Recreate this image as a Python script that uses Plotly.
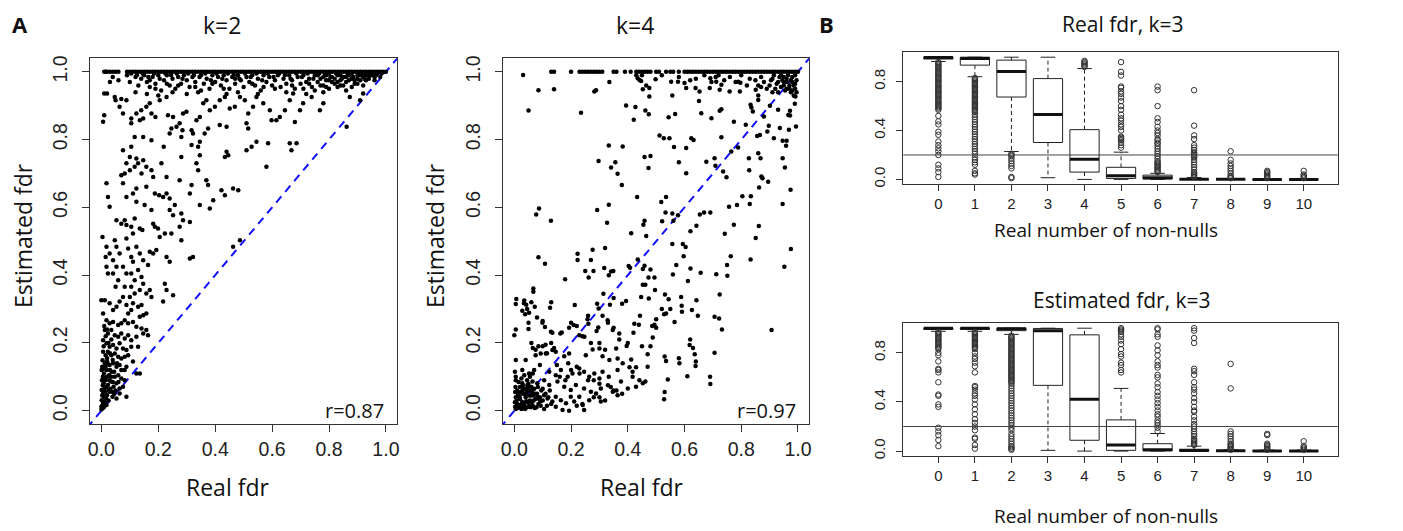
import plotly.graph_objects as go

# ---------------- Panel A data: (real fdr, estimated fdr) ----------------
k2_band_x = [0.01, 0.015, 0.02, 0.03, 0.04, 0.05, 0.06,
             0.09, 0.10, 0.11, 0.12, 0.13, 0.14, 0.15, 0.16, 0.17, 0.18, 0.19, 0.20,
             0.21, 0.22, 0.23, 0.24, 0.25, 0.26, 0.27, 0.28, 0.29, 0.30, 0.31, 0.32,
             0.33, 0.34, 0.35, 0.36, 0.37, 0.38, 0.39, 0.40, 0.41, 0.42, 0.43, 0.44,
             0.45, 0.46, 0.47, 0.48, 0.49, 0.50, 0.51, 0.52, 0.53, 0.54, 0.55, 0.56,
             0.57, 0.58, 0.59, 0.60, 0.61, 0.62, 0.63, 0.64, 0.65, 0.66, 0.67, 0.68,
             0.69, 0.70, 0.71, 0.72, 0.73, 0.74, 0.75, 0.76, 0.77, 0.78, 0.79, 0.80,
             0.81, 0.82, 0.83, 0.84, 0.85, 0.86, 0.87, 0.88, 0.89, 0.90, 0.91, 0.92,
             0.93, 0.94, 0.95, 0.96, 0.97, 0.98, 0.99, 1.00]
k2_band_y = 1.0

k2_points = [
    (0.03, 0.97), (0.04, 0.985), (0.06, 0.975), (0.09, 0.99), (0.10, 0.97), (0.12, 0.985), (0.13, 0.96),
    (0.14, 0.98), (0.15, 0.99), (0.16, 0.97), (0.17, 0.955), (0.18, 0.985), (0.19, 0.965), (0.20, 0.99),
    (0.21, 0.945), (0.22, 0.975), (0.23, 0.99), (0.24, 0.96), (0.25, 0.98), (0.26, 0.95), (0.27, 0.985),
    (0.28, 0.965), (0.29, 0.99), (0.30, 0.975), (0.31, 0.955), (0.32, 0.985), (0.33, 0.97), (0.34, 0.94),
    (0.35, 0.99), (0.36, 0.965), (0.37, 0.98), (0.38, 0.95), (0.39, 0.99), (0.40, 0.97), (0.41, 0.985),
    (0.42, 0.96), (0.43, 0.99), (0.44, 0.975), (0.45, 0.95), (0.46, 0.985), (0.47, 0.965), (0.48, 0.99),
    (0.49, 0.975), (0.50, 0.955), (0.51, 0.985), (0.52, 0.97), (0.53, 0.99), (0.54, 0.96), (0.55, 0.98),
    (0.56, 0.945), (0.57, 0.99), (0.58, 0.97), (0.59, 0.985), (0.60, 0.96), (0.61, 0.975), (0.62, 0.99),
    (0.63, 0.955), (0.64, 0.98), (0.65, 0.965), (0.66, 0.99), (0.67, 0.975), (0.68, 0.95), (0.69, 0.985),
    (0.70, 0.965), (0.71, 0.99), (0.72, 0.97), (0.73, 0.98), (0.74, 0.955), (0.75, 0.99), (0.76, 0.97),
    (0.77, 0.98), (0.78, 0.96), (0.79, 0.99), (0.80, 0.975), (0.81, 0.985), (0.82, 0.965), (0.83, 0.99),
    (0.84, 0.975), (0.85, 0.985), (0.86, 0.97), (0.87, 0.99), (0.88, 0.98), (0.89, 0.965), (0.90, 0.99),
    (0.91, 0.975), (0.92, 0.985), (0.93, 0.99), (0.94, 0.98), (0.95, 0.99), (0.96, 0.985), (0.97, 0.995),
    (0.75, 0.945), (0.78, 0.94), (0.80, 0.95), (0.83, 0.955), (0.86, 0.945), (0.72, 0.935), (0.65, 0.94),
    (0.55, 0.935), (0.48, 0.94), (0.44, 0.935), (0.35, 0.945), (0.30, 0.935), (0.25, 0.94), (0.20, 0.93),
    (0.16, 0.935), (0.12, 0.94), (0.76, 0.99), (0.78, 0.985), (0.80, 0.995), (0.82, 0.98), (0.84, 0.99),
    (0.86, 0.985), (0.88, 0.995), (0.90, 0.98), (0.92, 0.995), (0.94, 0.99), (0.77, 0.96), (0.81, 0.97),
    (0.85, 0.96), (0.89, 0.975), (0.93, 0.975), (0.79, 0.975), (0.83, 0.97), (0.87, 0.975), (0.91, 0.99),
    (0.95, 0.995),
    (0.105, 0.995), (0.125, 0.99), (0.145, 0.995), (0.165, 0.985), (0.185, 0.995), (0.205, 0.98),
    (0.225, 0.995), (0.245, 0.99), (0.265, 0.995), (0.285, 0.98), (0.305, 0.995), (0.325, 0.99),
    (0.345, 0.985), (0.365, 0.995), (0.385, 0.975), (0.405, 0.995), (0.425, 0.98), (0.445, 0.995),
    (0.465, 0.99), (0.485, 0.98), (0.505, 0.995), (0.525, 0.985), (0.545, 0.995), (0.565, 0.975),
    (0.585, 0.995), (0.605, 0.985), (0.625, 0.995), (0.645, 0.99), (0.665, 0.98), (0.685, 0.995),
    (0.705, 0.985), (0.725, 0.995), (0.745, 0.98), (0.765, 0.995), (0.785, 0.99), (0.805, 0.985),
    (0.825, 0.995), (0.845, 0.98), (0.865, 0.995), (0.885, 0.985), (0.905, 0.995), (0.925, 0.98),
    (0.945, 0.995), (0.965, 0.99), (0.985, 0.995), (0.17, 0.975), (0.19, 0.95), (0.23, 0.965),
    (0.27, 0.96), (0.33, 0.955), (0.39, 0.965), (0.43, 0.95), (0.47, 0.98), (0.53, 0.965),
    (0.57, 0.955), (0.61, 0.95), (0.67, 0.96), (0.71, 0.95), (0.73, 0.965), (0.79, 0.955),
    (0.84, 0.96), (0.88, 0.955), (0.90, 0.965), (0.92, 0.96), (0.96, 0.975), (0.98, 0.985),
    (0.01, 0.936), (0.02, 0.936), (0.047, 0.926), (0.05, 0.916), (0.01, 0.872), (0.006, 0.853),
    (0.07, 0.92), (0.088, 0.916), (0.064, 0.897), (0.076, 0.877), (0.105, 0.862), (0.105, 0.848),
    (0.135, 0.857), (0.147, 0.862), (0.123, 0.877), (0.14, 0.887), (0.158, 0.897), (0.17, 0.907),
    (0.176, 0.877), (0.19, 0.867), (0.205, 0.916), (0.229, 0.926), (0.234, 0.872), (0.252, 0.867),
    (0.264, 0.838), (0.275, 0.848), (0.287, 0.877), (0.299, 0.882), (0.317, 0.828), (0.322, 0.818),
    (0.334, 0.857), (0.346, 0.867), (0.358, 0.907), (0.369, 0.916), (0.381, 0.887), (0.399, 0.897),
    (0.416, 0.916), (0.434, 0.926), (0.451, 0.892), (0.469, 0.897), (0.487, 0.926), (0.504, 0.916),
    (0.516, 0.877), (0.516, 0.833), (0.51, 0.848), (0.533, 0.897), (0.545, 0.926), (0.569, 0.907),
    (0.592, 0.887), (0.598, 0.857), (0.615, 0.857), (0.627, 0.867), (0.645, 0.887), (0.662, 0.916),
    (0.674, 0.936), (0.68, 0.852), (0.698, 0.887), (0.709, 0.907), (0.739, 0.926), (0.768, 0.887),
    (0.78, 0.907), (0.862, 0.838), (0.873, 0.926), (0.909, 0.916), (0.92, 0.936), (0.662, 0.789),
    (0.668, 0.769), (0.686, 0.789), (0.58, 0.72), (0.586, 0.789), (0.51, 0.769), (0.528, 0.779),
    (0.545, 0.794), (0.44, 0.764), (0.434, 0.749), (0.446, 0.754), (0.416, 0.843), (0.44, 0.838),
    (0.375, 0.833), (0.363, 0.818), (0.346, 0.794), (0.34, 0.779), (0.317, 0.784), (0.346, 0.754),
    (0.334, 0.73), (0.34, 0.71), (0.281, 0.808), (0.285, 0.828), (0.24, 0.818), (0.246, 0.833),
    (0.219, 0.779), (0.281, 0.749), (0.211, 0.73), (0.229, 0.69), (0.176, 0.798), (0.147, 0.808),
    (0.117, 0.808), (0.105, 0.779), (0.1, 0.749), (0.088, 0.73), (0.076, 0.769), (0.07, 0.695),
    (0.082, 0.7), (0.1, 0.71), (0.117, 0.72), (0.129, 0.73), (0.147, 0.739), (0.158, 0.72),
    (0.123, 0.744), (0.141, 0.7), (0.176, 0.71), (0.182, 0.69), (0.275, 0.68), (0.317, 0.666),
    (0.311, 0.641), (0.369, 0.68), (0.375, 0.666), (0.381, 0.597), (0.346, 0.607), (0.393, 0.621),
    (0.422, 0.651), (0.434, 0.636), (0.463, 0.656), (0.481, 0.651), (0.188, 0.641), (0.203, 0.636),
    (0.217, 0.631), (0.229, 0.641), (0.24, 0.626), (0.158, 0.661), (0.123, 0.656), (0.111, 0.641),
    (0.088, 0.631), (0.123, 0.617), (0.018, 0.671), (0.023, 0.631), (0.029, 0.602), (0.076, 0.671),
    (0.152, 0.607), (0.176, 0.592), (0.24, 0.592), (0.258, 0.607), (0.252, 0.577), (0.281, 0.582),
    (0.287, 0.562), (0.311, 0.557), (0.275, 0.543), (0.281, 0.503), (0.182, 0.552), (0.188, 0.543),
    (0.199, 0.538), (0.205, 0.513), (0.223, 0.523), (0.246, 0.523), (0.053, 0.562), (0.07, 0.552),
    (0.082, 0.562), (0.088, 0.548), (0.105, 0.543), (0.117, 0.567), (0.135, 0.538), (0.144, 0.533),
    (0.111, 0.523), (0.004, 0.513), (0.018, 0.484), (0.029, 0.464), (0.015, 0.454), (0.047, 0.503),
    (0.053, 0.484), (0.064, 0.464), (0.088, 0.508), (0.094, 0.479), (0.105, 0.454), (0.111, 0.44),
    (0.123, 0.484), (0.135, 0.464), (0.147, 0.444), (0.164, 0.43), (0.17, 0.469), (0.182, 0.464),
    (0.193, 0.474), (0.229, 0.454), (0.24, 0.44), (0.311, 0.449), (0.322, 0.454), (0.463, 0.484),
    (0.487, 0.503), (0.041, 0.444), (0.053, 0.425), (0.041, 0.405), (0.059, 0.385), (0.05, 0.366),
    (0.018, 0.425), (0.023, 0.405), (0.076, 0.425), (0.088, 0.405), (0.082, 0.366), (0.105, 0.405),
    (0.117, 0.385), (0.129, 0.415), (0.141, 0.395), (0.147, 0.375), (0.135, 0.356), (0.158, 0.346),
    (0.17, 0.356), (0.176, 0.336), (0.105, 0.366), (0.117, 0.346), (0.1, 0.336), (0.223, 0.375),
    (0.229, 0.356), (0.217, 0.322), (0.252, 0.341), (0.0, 0.326), (0.012, 0.326), (0.029, 0.317),
    (0.041, 0.297), (0.053, 0.307), (0.064, 0.322), (0.076, 0.336), (0.088, 0.312), (0.094, 0.287),
    (0.105, 0.297), (0.111, 0.317), (0.129, 0.307), (0.141, 0.312), (0.147, 0.282), (0.135, 0.277),
    (0.158, 0.287), (0.006, 0.287), (0.018, 0.267), (0.029, 0.258), (0.041, 0.262), (0.059, 0.253),
    (0.07, 0.258), (0.082, 0.267), (0.094, 0.258), (0.111, 0.262), (0.123, 0.248), (0.141, 0.243),
    (0.158, 0.238), (0.012, 0.238), (0.023, 0.228), (0.035, 0.238), (0.047, 0.223), (0.059, 0.218),
    (0.07, 0.228), (0.082, 0.213), (0.094, 0.223), (0.105, 0.208), (0.123, 0.218), (0.147, 0.228),
    (0.164, 0.223), (0.006, 0.208), (0.018, 0.199), (0.029, 0.189), (0.041, 0.194), (0.053, 0.184),
    (0.064, 0.199), (0.076, 0.184), (0.088, 0.179), (0.105, 0.189), (0.129, 0.189), (0.006, 0.174),
    (0.015, 0.164), (0.023, 0.174), (0.035, 0.164), (0.047, 0.169), (0.059, 0.159), (0.07, 0.154),
    (0.082, 0.159), (0.094, 0.164), (0.111, 0.145), (0.004, 0.149), (0.012, 0.14), (0.02, 0.145),
    (0.029, 0.135), (0.041, 0.14), (0.053, 0.13), (0.064, 0.135), (0.082, 0.12), (0.088, 0.13),
    (0.123, 0.11), (0.135, 0.11), (0.001, 0.12), (0.009, 0.11), (0.018, 0.12), (0.027, 0.105),
    (0.036, 0.115), (0.047, 0.1), (0.059, 0.105), (0.07, 0.095), (0.002, 0.09), (0.008, 0.081),
    (0.015, 0.09), (0.023, 0.076), (0.033, 0.086), (0.043, 0.071), (0.053, 0.081), (0.064, 0.066),
    (0.076, 0.071), (0.082, 0.09), (0.001, 0.061), (0.006, 0.051), (0.013, 0.056), (0.02, 0.046),
    (0.029, 0.056), (0.039, 0.041), (0.053, 0.036), (0.064, 0.051), (0.088, 0.041), (0.001, 0.031),
    (0.006, 0.022), (0.012, 0.027), (0.018, 0.017), (0.0, 0.012), (0.005, 0.007), (0.0, 0.004),
    (0.003, 0.13), (0.008, 0.125), (0.015, 0.13), (0.022, 0.14), (0.03, 0.12), (0.005, 0.1),
    (0.012, 0.095), (0.02, 0.1), (0.028, 0.09), (0.035, 0.1), (0.04, 0.085), (0.005, 0.075),
    (0.01, 0.065), (0.018, 0.07), (0.025, 0.06), (0.032, 0.065), (0.04, 0.055), (0.003, 0.045),
    (0.01, 0.04), (0.017, 0.035), (0.025, 0.03), (0.003, 0.015), (0.01, 0.012), (0.015, 0.02),
    (0.045, 0.05), (0.05, 0.06), (0.06, 0.085), (0.045, 0.115), (0.055, 0.14), (0.07, 0.12),
    (0.02, 0.155), (0.03, 0.17), (0.04, 0.15), (0.008, 0.19), (0.015, 0.22), (0.025, 0.2),
    (0.035, 0.21), (0.01, 0.25), (0.02, 0.24),
]

# ---------------- Panel k=4 data ----------------
k4_band_x = [0.13, 0.14, 0.20, 0.23, 0.24, 0.25, 0.26, 0.27, 0.28, 0.29, 0.30, 0.31, 0.35, 0.36,
             0.39, 0.41, 0.43, 0.44, 0.45, 0.46, 0.47, 0.48, 0.50, 0.51, 0.535, 0.55, 0.56, 0.58,
             0.60, 0.61, 0.62, 0.63, 0.64, 0.65, 0.66, 0.67, 0.68, 0.69, 0.70, 0.71, 0.72, 0.73,
             0.74, 0.75, 0.76, 0.77, 0.78, 0.79, 0.80, 0.81, 0.82, 0.83, 0.84, 0.85, 0.86, 0.87,
             0.88, 0.89, 0.90, 0.91, 0.92, 0.93, 0.94, 0.95, 0.96, 0.97, 0.98, 0.99, 1.00]
k4_band_y = 1.0

k4_points = [
    (0.031, 0.991), (0.085, 0.946), (0.14, 0.949), (0.05, 0.886), (0.235, 0.879), (0.282, 0.942),
    (0.288, 0.946), (0.335, 0.97), (0.435, 0.981), (0.441, 0.976), (0.447, 0.973), (0.465, 0.96),
    (0.476, 0.952), (0.453, 0.949), (0.476, 0.927), (0.394, 0.901), (0.427, 0.896), (0.462, 0.886),
    (0.474, 0.875), (0.421, 0.859), (0.498, 0.978), (0.553, 0.971), (0.577, 0.971), (0.6, 0.967),
    (0.606, 0.952), (0.557, 0.93), (0.544, 0.866), (0.567, 0.876), (0.512, 0.812), (0.527, 0.804),
    (0.547, 0.804), (0.563, 0.778), (0.606, 0.775), (0.624, 0.804), (0.632, 0.799), (0.333, 0.783),
    (0.382, 0.78), (0.297, 0.737), (0.341, 0.718), (0.356, 0.733), (0.364, 0.699), (0.379, 0.666),
    (0.459, 0.749), (0.48, 0.752), (0.473, 0.716), (0.58, 0.733), (0.606, 0.701), (0.639, 0.952),
    (0.653, 0.942), (0.651, 0.914), (0.659, 0.878), (0.695, 0.863), (0.677, 0.735), (0.706, 0.745),
    (0.709, 0.723), (0.724, 0.885), (0.73, 0.89), (0.73, 0.807), (0.736, 0.706), (0.748, 0.689),
    (0.691, 0.981), (0.695, 0.97), (0.712, 0.971), (0.73, 0.962), (0.724, 0.947), (0.689, 0.952),
    (0.759, 0.942), (0.774, 0.853), (0.765, 0.765), (0.789, 0.777), (0.795, 0.942), (0.789, 0.971),
    (0.797, 0.968), (0.816, 0.844), (0.827, 0.745), (0.828, 0.71), (0.833, 0.903), (0.836, 0.895),
    (0.841, 0.883), (0.851, 0.947), (0.86, 0.917), (0.86, 0.93), (0.856, 0.811), (0.866, 0.814),
    (0.86, 0.76), (0.868, 0.745), (0.871, 0.691), (0.875, 0.686), (0.863, 0.659), (0.895, 0.676),
    (0.88, 0.868), (0.892, 0.824), (0.897, 0.841), (0.901, 0.9), (0.915, 0.804), (0.93, 0.888),
    (0.936, 0.834), (0.946, 0.745), (0.954, 0.718), (0.946, 0.797), (0.96, 0.797), (0.958, 0.782),
    (0.966, 0.873), (0.972, 0.871), (0.968, 0.829), (0.972, 0.885), (0.974, 0.652), (0.993, 0.839),
    (0.989, 0.906), (0.991, 0.927),
    (0.9, 0.96), (0.91, 0.98), (0.92, 0.95), (0.93, 0.97), (0.94, 0.99), (0.95, 0.96), (0.96, 0.98),
    (0.97, 0.95), (0.98, 0.97), (0.99, 0.99), (0.985, 0.96), (0.975, 0.975), (0.965, 0.99),
    (0.955, 0.945), (0.945, 0.975), (0.935, 0.985), (0.925, 0.965), (0.915, 0.99), (0.905, 0.975),
    (0.995, 0.975), (0.99, 0.95), (0.98, 0.985), (0.97, 0.96), (0.96, 0.97), (0.95, 0.985),
    (0.94, 0.955), (0.93, 0.94), (0.995, 0.94), (0.985, 0.93), (0.975, 0.94), (0.96, 0.95),
    (0.99, 0.965), (0.98, 0.945), (0.95, 0.97), (0.88, 0.97), (0.87, 0.985), (0.86, 0.96),
    (0.85, 0.975), (0.83, 0.98), (0.82, 0.96), (0.8, 0.99), (0.78, 0.97), (0.76, 0.985),
    (0.74, 0.975), (0.72, 0.99), (0.71, 0.985), (0.67, 0.99), (0.64, 0.98), (0.62, 0.975),
    (0.58, 0.985), (0.52, 0.99), (0.45, 0.99), (0.43, 0.99), (0.91, 0.94), (0.89, 0.95), (0.87, 0.955),
    (0.433, 0.631), (0.518, 0.616), (0.535, 0.631), (0.804, 0.633), (0.834, 0.633), (0.077, 0.579),
    (0.087, 0.597), (0.129, 0.561), (0.292, 0.592), (0.333, 0.608), (0.327, 0.555), (0.459, 0.561),
    (0.455, 0.549), (0.521, 0.559), (0.533, 0.585), (0.557, 0.582), (0.561, 0.561), (0.577, 0.577),
    (0.654, 0.579), (0.669, 0.585), (0.691, 0.585), (0.757, 0.602), (0.785, 0.607), (0.83, 0.61),
    (0.946, 0.61), (0.642, 0.546), (0.621, 0.53), (0.412, 0.524), (0.465, 0.516), (0.774, 0.549),
    (0.862, 0.545), (0.742, 0.522), (0.851, 0.51), (0.557, 0.492), (0.594, 0.492), (0.604, 0.483),
    (0.975, 0.477), (0.223, 0.463), (0.223, 0.445), (0.276, 0.475), (0.27, 0.445), (0.32, 0.48),
    (0.085, 0.453), (0.108, 0.434), (0.179, 0.388), (0.25, 0.412), (0.262, 0.393), (0.279, 0.412),
    (0.317, 0.421), (0.333, 0.4), (0.341, 0.411), (0.349, 0.412), (0.403, 0.427), (0.408, 0.422),
    (0.435, 0.446), (0.459, 0.428), (0.453, 0.418), (0.48, 0.417), (0.473, 0.393), (0.494, 0.393),
    (0.453, 0.372), (0.462, 0.372), (0.496, 0.356), (0.559, 0.402), (0.571, 0.43), (0.597, 0.456),
    (0.621, 0.42), (0.612, 0.383), (0.657, 0.407), (0.712, 0.403), (0.75, 0.43), (0.751, 0.398),
    (0.763, 0.456), (0.833, 0.446), (0.724, 0.343), (0.952, 0.425), (0.067, 0.361), (0.067, 0.351),
    (0.005, 0.315), (0.034, 0.317), (0.042, 0.313), (0.028, 0.295), (0.038, 0.285), (0.052, 0.289),
    (0.072, 0.307), (0.126, 0.304), (0.213, 0.312), (0.314, 0.345), (0.292, 0.316), (0.297, 0.302),
    (0.337, 0.313), (0.35, 0.333), (0.38, 0.316), (0.394, 0.324), (0.311, 0.28), (0.258, 0.27),
    (0.261, 0.257), (0.209, 0.253), (0.193, 0.245), (0.167, 0.231), (0.099, 0.26), (0.108, 0.247),
    (0.05, 0.241), (0.129, 0.233), (0.296, 0.246), (0.329, 0.267), (0.347, 0.238), (0.37, 0.228),
    (0.423, 0.257), (0.439, 0.254), (0.447, 0.336), (0.474, 0.331), (0.443, 0.28), (0.486, 0.25),
    (0.494, 0.254), (0.5, 0.245), (0.531, 0.343), (0.544, 0.329), (0.528, 0.285), (0.535, 0.287),
    (0.588, 0.336), (0.591, 0.292), (0.565, 0.262), (0.626, 0.297), (0.647, 0.28), (0.642, 0.326),
    (0.706, 0.277), (0.722, 0.272), (0.732, 0.24), (0.907, 0.238), (0.005, 0.24),
    (0.0, 0.223), (0.134, 0.23), (0.162, 0.228), (0.229, 0.223), (0.247, 0.218), (0.359, 0.184),
    (0.396, 0.191), (0.488, 0.216), (0.618, 0.194), (0.636, 0.167), (0.706, 0.171), (0.47, 0.167),
    (0.535, 0.147), (0.582, 0.14), (0.639, 0.132), (0.541, 0.092), (0.61, 0.102), (0.691, 0.079),
    (0.528, 0.034), (0.005, 0.15), (0.04, 0.15), (0.075, 0.164), (0.093, 0.169), (0.111, 0.169),
    (0.134, 0.179), (0.146, 0.174), (0.176, 0.161), (0.193, 0.169), (0.252, 0.164), (0.276, 0.181),
    (0.3, 0.184), (0.311, 0.161), (0.335, 0.15), (0.364, 0.154), (0.382, 0.14), (0.412, 0.151),
    (0.406, 0.128), (0.429, 0.128), (0.417, 0.115), (0.002, 0.115), (0.028, 0.12), (0.052, 0.11),
    (0.07, 0.12), (0.09, 0.135), (0.123, 0.115), (0.146, 0.105), (0.164, 0.12), (0.188, 0.1),
    (0.205, 0.11), (0.229, 0.125), (0.246, 0.115), (0.264, 0.1), (0.282, 0.11), (0.3, 0.095),
    (0.311, 0.115), (0.333, 0.1), (0.364, 0.12), (0.376, 0.086), (0.4, 0.066), (0.429, 0.071),
    (0.441, 0.09), (0.453, 0.081), (0.462, 0.086), (0.417, 0.1), (0.005, 0.09), (0.028, 0.081),
    (0.046, 0.076), (0.064, 0.086), (0.081, 0.081), (0.105, 0.09), (0.123, 0.076), (0.152, 0.086),
    (0.176, 0.071), (0.199, 0.061), (0.217, 0.076), (0.246, 0.066), (0.27, 0.056), (0.288, 0.051),
    (0.305, 0.027), (0.347, 0.056), (0.364, 0.046), (0.305, 0.066), (0.146, 0.041), (0.164, 0.031),
    (0.182, 0.022), (0.199, 0.041), (0.211, 0.027), (0.241, 0.017), (0.246, 0.002), (0.17, 0.002),
    (0.193, 0.0), (0.146, 0.012), (0.134, 0.027), (0.117, 0.036), (0.105, 0.046), (0.264, 0.031),
    (0.229, 0.041),
    (0.005, 0.005), (0.01, 0.02), (0.015, 0.01), (0.02, 0.035), (0.025, 0.005), (0.03, 0.05),
    (0.035, 0.02), (0.04, 0.04), (0.045, 0.01), (0.05, 0.06), (0.055, 0.03), (0.06, 0.045),
    (0.065, 0.015), (0.07, 0.065), (0.075, 0.035), (0.08, 0.05), (0.085, 0.02), (0.09, 0.04),
    (0.095, 0.06), (0.1, 0.03), (0.11, 0.05), (0.115, 0.015), (0.005, 0.04), (0.01, 0.06),
    (0.015, 0.05), (0.02, 0.07), (0.03, 0.075), (0.04, 0.065), (0.05, 0.08), (0.06, 0.07),
    (0.008, 0.03), (0.012, 0.045), (0.018, 0.015), (0.022, 0.055), (0.028, 0.025), (0.033, 0.065),
    (0.038, 0.005), (0.043, 0.055), (0.048, 0.025), (0.053, 0.045), (0.058, 0.01), (0.063, 0.055),
    (0.068, 0.03), (0.073, 0.05), (0.078, 0.01), (0.083, 0.07), (0.088, 0.035), (0.093, 0.015),
    (0.1, 0.065), (0.105, 0.005), (0.12, 0.04), (0.125, 0.06), (0.13, 0.02), (0.005, 0.1),
    (0.015, 0.085), (0.025, 0.095), (0.035, 0.105), (0.045, 0.09), (0.055, 0.1), (0.065, 0.11),
    (0.003, 0.012), (0.002, 0.025), (0.003, 0.055), (0.004, 0.07),
    (0.007, 0.33), (0.035, 0.325), (0.045, 0.3), (0.06, 0.32), (0.05, 0.26), (0.06, 0.2),
    (0.065, 0.185), (0.075, 0.18), (0.085, 0.19), (0.1, 0.19), (0.11, 0.195), (0.115, 0.17),
    (0.13, 0.2), (0.14, 0.185), (0.08, 0.275), (0.1, 0.265), (0.13, 0.32), (0.2, 0.26), (0.22, 0.25),
    (0.24, 0.22), (0.26, 0.28), (0.27, 0.2), (0.29, 0.235), (0.3, 0.2), (0.32, 0.18), (0.33, 0.26),
    (0.35, 0.245), (0.37, 0.21), (0.4, 0.2), (0.42, 0.23), (0.45, 0.19), (0.48, 0.19), (0.5, 0.27),
    (0.52, 0.3), (0.55, 0.3), (0.59, 0.31), (0.62, 0.21), (0.63, 0.185), (0.64, 0.145), (0.58, 0.155),
    (0.53, 0.16), (0.47, 0.13), (0.69, 0.1), (0.53, 0.055), (0.22, 0.13), (0.23, 0.11), (0.26, 0.09),
    (0.28, 0.09), (0.3, 0.08), (0.33, 0.075), (0.35, 0.06), (0.22, 0.015), (0.24, 0.02), (0.28, 0.04),
    (0.3, 0.04), (0.32, 0.03), (0.34, 0.07), (0.36, 0.06), (0.38, 0.05), (0.18, 0.09), (0.2, 0.12),
    (0.19, 0.14), (0.16, 0.1), (0.15, 0.135),
    (0.012, 0.008), (0.022, 0.018), (0.032, 0.012), (0.042, 0.028), (0.052, 0.015), (0.062, 0.025),
    (0.072, 0.008), (0.082, 0.04), (0.092, 0.028), (0.018, 0.042), (0.028, 0.058), (0.038, 0.048),
    (0.048, 0.07), (0.058, 0.06), (0.068, 0.045),
]

k2_r = "r=0.87"
k4_r = "r=0.97"

# ---------------- Panel B data: boxplot statistics ----------------
groups = [0, 1, 2, 3, 4, 5, 6, 7, 8, 9, 10]

real_q1 = [0.985, 0.935, 0.674, 0.302, 0.060, 0.008, 0.003, 0.0, 0.0, 0.0, 0.0]
real_med = [0.997, 0.990, 0.882, 0.531, 0.165, 0.030, 0.014, 0.002, 0.001, 0.0, 0.0]
real_q3 = [1.0, 1.0, 0.976, 0.825, 0.407, 0.099, 0.035, 0.006, 0.003, 0.002, 0.002]
real_lo = [0.965, 0.840, 0.228, 0.014, 0.0, 0.0, 0.0, 0.0, 0.0, 0.0, 0.0]
real_hi = [1.0, 1.0, 1.0, 1.0, 0.907, 0.223, 0.050, 0.015, 0.007, 0.004, 0.004]
real_out = [
    [0.96, 0.95, 0.94, 0.93, 0.92, 0.91, 0.90, 0.89, 0.88, 0.87, 0.86, 0.85, 0.84, 0.83, 0.82, 0.81,
     0.80, 0.79, 0.78, 0.77, 0.76, 0.75, 0.74, 0.73, 0.72, 0.71, 0.70, 0.69, 0.68, 0.67, 0.66, 0.65,
     0.64, 0.63, 0.62, 0.61, 0.60, 0.59, 0.58, 0.57, 0.52, 0.475, 0.45, 0.39, 0.365, 0.31, 0.28,
     0.255, 0.23, 0.20, 0.12, 0.09, 0.06, 0.02],
    [0.83, 0.82, 0.81, 0.80, 0.79, 0.78, 0.77, 0.76, 0.75, 0.74, 0.73, 0.72, 0.71, 0.70, 0.69, 0.68,
     0.67, 0.66, 0.65, 0.64, 0.63, 0.62, 0.61, 0.60, 0.59, 0.58, 0.57, 0.56, 0.55, 0.53, 0.51, 0.49,
     0.47, 0.45, 0.43, 0.41, 0.39, 0.37, 0.35, 0.33, 0.31, 0.29, 0.27, 0.25, 0.23, 0.21, 0.18, 0.16,
     0.14, 0.12, 0.07, 0.05, 0.04],
    [0.21, 0.20, 0.19, 0.17, 0.15, 0.13, 0.11, 0.09, 0.02, 0.01],
    [],
    [0.92, 0.93, 0.94, 0.95, 0.96, 0.97],
    [0.26, 0.28, 0.30, 0.32, 0.33, 0.34, 0.35, 0.40, 0.43, 0.45, 0.48, 0.50, 0.53, 0.57, 0.60, 0.64,
     0.67, 0.70, 0.72, 0.75, 0.76, 0.85, 0.88, 0.96],
    [0.06, 0.07, 0.08, 0.09, 0.10, 0.11, 0.12, 0.13, 0.14, 0.15, 0.17, 0.19, 0.21, 0.23, 0.25, 0.27,
     0.29, 0.30, 0.32, 0.33, 0.36, 0.38, 0.40, 0.43, 0.47, 0.50, 0.60, 0.73, 0.76],
    [0.02, 0.03, 0.04, 0.05, 0.06, 0.08, 0.10, 0.12, 0.14, 0.16, 0.18, 0.19, 0.20, 0.21, 0.22, 0.24,
     0.26, 0.28, 0.33, 0.36, 0.44, 0.73],
    [0.01, 0.02, 0.03, 0.05, 0.07, 0.09, 0.11, 0.13, 0.16, 0.23],
    [0.01, 0.02, 0.03, 0.04, 0.05, 0.06, 0.07],
    [0.01, 0.02, 0.03, 0.04, 0.07],
]

est_q1 = [0.990, 0.990, 0.980, 0.535, 0.088, 0.006, 0.002, 0.0, 0.0, 0.0, 0.0]
est_med = [1.0, 1.0, 0.995, 0.979, 0.422, 0.050, 0.010, 0.005, 0.002, 0.001, 0.001]
est_q3 = [1.0, 1.0, 1.0, 0.998, 0.946, 0.254, 0.060, 0.015, 0.005, 0.004, 0.004]
est_lo = [0.975, 0.975, 0.950, 0.006, 0.0, 0.0, 0.0, 0.0, 0.0, 0.0, 0.0]
est_hi = [1.0, 1.0, 1.0, 1.0, 1.0, 0.510, 0.143, 0.040, 0.010, 0.008, 0.008]
est_out = [
    [0.97, 0.96, 0.95, 0.94, 0.93, 0.92, 0.91, 0.90, 0.89, 0.88, 0.87, 0.86, 0.85, 0.84, 0.83,
     0.80, 0.78, 0.73, 0.67, 0.66, 0.64, 0.56, 0.46, 0.45, 0.38, 0.36, 0.19, 0.16, 0.13, 0.09, 0.04],
    [0.97, 0.96, 0.95, 0.94, 0.93, 0.92, 0.91, 0.90, 0.89, 0.88, 0.87, 0.86, 0.85, 0.84, 0.83,
     0.80, 0.77, 0.75, 0.72, 0.69, 0.64, 0.53, 0.52, 0.50, 0.47, 0.45, 0.42, 0.38, 0.34, 0.30, 0.26,
     0.23, 0.20, 0.17, 0.11, 0.10, 0.05, 0.02],
    [0.94, 0.93, 0.92, 0.91, 0.90, 0.89, 0.88, 0.87, 0.86, 0.85, 0.84, 0.83, 0.82, 0.81, 0.80, 0.79,
     0.78, 0.77, 0.76, 0.75, 0.74, 0.73, 0.72, 0.71, 0.70, 0.69, 0.68, 0.67, 0.66, 0.65, 0.64, 0.63,
     0.62, 0.61, 0.60, 0.59, 0.58, 0.57, 0.56, 0.55, 0.53, 0.51, 0.49, 0.47, 0.45, 0.43, 0.41, 0.39,
     0.37, 0.35, 0.33, 0.31, 0.29, 0.27, 0.25, 0.23, 0.21, 0.19, 0.17, 0.14, 0.12, 0.10, 0.08, 0.06,
     0.04, 0.03, 0.02, 0.01],
    [],
    [],
    [0.64, 0.66, 0.70, 0.72, 0.77, 0.79, 0.83, 0.87, 0.90, 0.93, 0.95, 0.97, 0.98, 0.99, 1.0],
    [0.16, 0.19, 0.21, 0.23, 0.25, 0.28, 0.30, 0.33, 0.36, 0.39, 0.42, 0.45, 0.48, 0.52, 0.55, 0.60,
     0.62, 0.68, 0.70, 0.73, 0.78, 0.82, 0.86, 0.93, 0.95, 0.99, 1.0],
    [0.05, 0.06, 0.07, 0.08, 0.09, 0.10, 0.12, 0.14, 0.16, 0.18, 0.20, 0.22, 0.25, 0.28, 0.32, 0.33,
     0.36, 0.40, 0.43, 0.47, 0.50, 0.52, 0.56, 0.62, 0.65, 0.67, 0.88, 0.92, 0.98, 1.0],
    [0.01, 0.02, 0.03, 0.04, 0.05, 0.06, 0.08, 0.10, 0.12, 0.14, 0.16, 0.51, 0.71],
    [0.01, 0.02, 0.03, 0.04, 0.05, 0.06, 0.13, 0.14],
    [0.01, 0.02, 0.03, 0.04, 0.08],
]
threshold = 0.2

# ---------------- styling constants ----------------
TICK_FONT = "Liberation Sans, Arial, sans-serif"
TEXT_FONT = "Open Sans, Lato, sans-serif"
AX_COLOR = "#333333"
BOX_HALF = 0.4
STAPLE_HALF = 0.2
OFF = 8  # default page margin of the HTML body

fig = go.Figure()

for pts, bx, by, xa, ya in [(k2_points, k2_band_x, k2_band_y, "x", "y"),
                             (k4_points, k4_band_x, k4_band_y, "x2", "y2")]:
    xs = list(bx) + [p[0] for p in pts]
    ys = [by] * len(bx) + [p[1] for p in pts]
    fig.add_trace(go.Scatter(x=[-0.05, 1.05], y=[-0.05, 1.05], mode="lines",
                             line=dict(color="#1010ff", width=2, dash="8px,6px"),
                             xaxis=xa, yaxis=ya, hoverinfo="skip"))
    fig.add_trace(go.Scatter(x=xs, y=ys, mode="markers",
                             marker=dict(color="black", size=4.5, line=dict(width=0)),
                             xaxis=xa, yaxis=ya))


def add_boxes(q1, med, q3, lo, hi, outs, xa, ya):
    bx, by, wx, wy, sx, sy, mx, my, ox, oy = [], [], [], [], [], [], [], [], [], []
    for g, a, m, b, l, h, o in zip(groups, q1, med, q3, lo, hi, outs):
        bx += [g - BOX_HALF, g + BOX_HALF, g + BOX_HALF, g - BOX_HALF, g - BOX_HALF, None]
        by += [a, a, b, b, a, None]
        wx += [g, g, None, g, g, None]
        wy += [b, h, None, a, l, None]
        sx += [g - STAPLE_HALF, g + STAPLE_HALF, None, g - STAPLE_HALF, g + STAPLE_HALF, None]
        sy += [h, h, None, l, l, None]
        mx += [g - BOX_HALF, g + BOX_HALF, None]
        my += [m, m, None]
        ox += [g] * len(o)
        oy += list(o)
    common = dict(mode="lines", xaxis=xa, yaxis=ya, hoverinfo="skip")
    fig.add_trace(go.Scatter(x=wx, y=wy, line=dict(color="#222", width=1, dash="4px,3px"), **common))
    fig.add_trace(go.Scatter(x=sx, y=sy, line=dict(color="#222", width=1), **common))
    fig.add_trace(go.Scatter(x=bx, y=by, line=dict(color="#222", width=1), **common))
    fig.add_trace(go.Scatter(x=mx, y=my, line=dict(color="#111", width=3), **common))
    fig.add_trace(go.Scatter(x=ox, y=oy, mode="markers", xaxis=xa, yaxis=ya,
                             marker=dict(symbol="circle-open", size=5.5, color="#333",
                                         line=dict(width=1, color="#333"))))


add_boxes(real_q1, real_med, real_q3, real_lo, real_hi, real_out, "x3", "y3")
add_boxes(est_q1, est_med, est_q3, est_lo, est_hi, est_out, "x4", "y4")

W, H = 1403 - OFF, 531 - OFF


def dom_x(a, b):
    return [(a - OFF) / W, (b - OFF) / W]


def dom_y(top, bottom):
    return [1 - (bottom - OFF) / H, 1 - (top - OFF) / H]


fdr_ticks = [0.0, 0.2, 0.4, 0.6, 0.8, 1.0]
fdr_text = ["0.0", "0.2", "0.4", "0.6", "0.8", "1.0"]
box_yticks = [0.0, 0.4, 0.8]
box_ytext = ["0.0", "0.4", "0.8"]

base = dict(showgrid=False, zeroline=False, showline=True, mirror=True, linecolor=AX_COLOR,
            linewidth=1, ticks="outside", tickcolor=AX_COLOR, tickwidth=1)

sc_font = dict(family=TICK_FONT, size=19.5, color="#222")
bx_font = dict(family=TICK_FONT, size=15, color="#222")

fig.update_layout(
    width=W, height=H, margin=dict(l=0, r=0, t=0, b=0, autoexpand=False),
    paper_bgcolor="white", plot_bgcolor="white", showlegend=False,
    xaxis=dict(base, domain=dom_x(90, 397.3), range=[-0.04, 1.04], tickvals=fdr_ticks,
               ticktext=fdr_text, ticklen=7, tickfont=sc_font, anchor="y"),
    yaxis=dict(base, domain=dom_y(58.3, 424.3), range=[-0.04, 1.04], tickvals=fdr_ticks,
               ticktext=fdr_text, ticklen=7, tickfont=sc_font, tickangle=-90, anchor="x",
               ticklabelstandoff=7),
    xaxis2=dict(base, domain=dom_x(503, 809.3), range=[-0.04, 1.04], tickvals=fdr_ticks,
                ticktext=fdr_text, ticklen=7, tickfont=sc_font, anchor="y2"),
    yaxis2=dict(base, domain=dom_y(58.3, 424.3), range=[-0.04, 1.04], tickvals=fdr_ticks,
                ticktext=fdr_text, ticklen=7, tickfont=sc_font, tickangle=-90, anchor="x2",
                ticklabelstandoff=7),
    xaxis3=dict(base, domain=dom_x(903.3, 1337.7), range=[-0.96, 10.93], tickvals=groups,
                ticklen=6, tickfont=bx_font, anchor="y3"),
    yaxis3=dict(base, domain=dom_y(52.3, 184.3), range=[-0.04, 1.04], tickvals=box_yticks,
                ticktext=box_ytext, ticklen=6, tickfont=bx_font, tickangle=-90, anchor="x3",
                ticklabelstandoff=5),
    xaxis4=dict(base, domain=dom_x(903.3, 1337.7), range=[-0.96, 10.93], tickvals=groups,
                ticklen=6, tickfont=bx_font, anchor="y4"),
    yaxis4=dict(base, domain=dom_y(323.3, 456), range=[-0.04, 1.04], tickvals=box_yticks,
                ticktext=box_ytext, ticklen=6, tickfont=bx_font, tickangle=-90, anchor="x4",
                ticklabelstandoff=5),
)

for yref in ["y3", "y4"]:
    xr = yref.replace("y", "x")
    fig.add_shape(type="line", xref=xr + " domain", yref=yref, x0=0, x1=1, y0=threshold,
                  y1=threshold, line=dict(color="#444", width=1))


def txt(text, x, y, size, bold=False, angle=0):
    fig.add_annotation(text=("<b>%s</b>" % text) if bold else text,
                       x=(x - OFF) / W, y=1 - (y - OFF) / H,
                       xref="paper", yref="paper", showarrow=False, textangle=angle,
                       xanchor="center", yanchor="middle", borderpad=0,
                       font=dict(family=TEXT_FONT, size=size, color="#111"))


txt("A", 20, 24, 22, bold=True)
txt("B", 826, 24, 22, bold=True)
txt("k=2", 222, 25, 23)
txt("k=4", 635, 25, 23)
txt("Real fdr", 228, 487, 23)
txt("Real fdr", 641, 487, 23)
txt("Estimated fdr", 23, 236, 23, angle=-90)
txt("Estimated fdr", 435, 236, 23, angle=-90)
txt("Real fdr, k=3", 1123, 24, 21)
txt("Estimated fdr, k=3", 1122, 300, 21)
txt("Real number of non-nulls", 1106, 230, 19)
txt("Real number of non-nulls", 1106, 516, 19)

for xr, yr, label in [("x", "y", k2_r), ("x2", "y2", k4_r)]:
    fig.add_annotation(text=label, x=1.0, y=0.0, xref=xr, yref=yr, showarrow=False,
                       xanchor="right", yanchor="middle",
                       font=dict(family=TEXT_FONT, size=20, color="#111"))

fig.write_html("out.html")
